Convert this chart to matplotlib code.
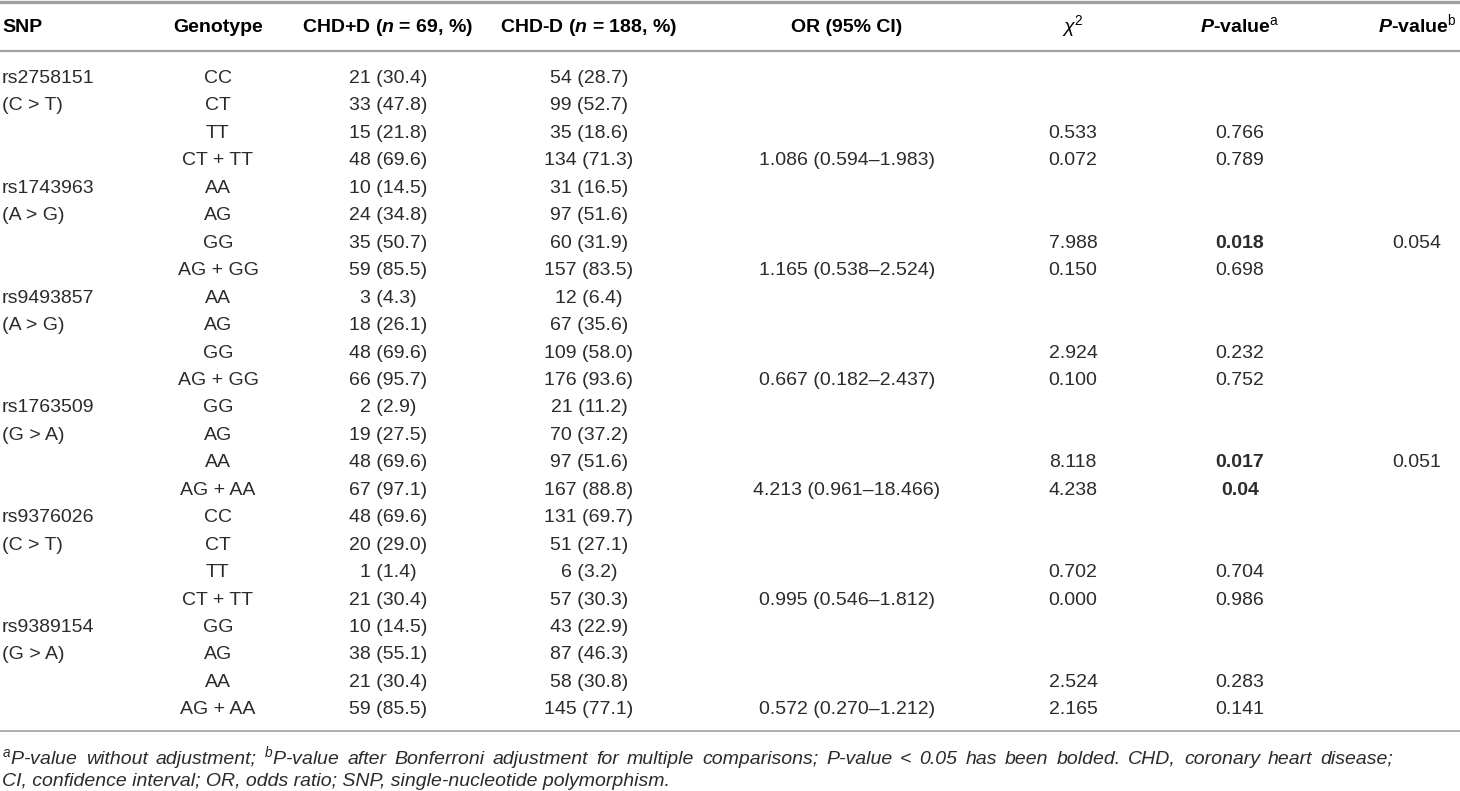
import matplotlib
matplotlib.use('Agg')
import matplotlib.pyplot as plt

plt.rcParams['font.family'] = ['Liberation Sans', 'DejaVu Sans']
plt.rcParams['mathtext.fontset'] = 'custom'
plt.rcParams['mathtext.rm'] = 'Liberation Sans'
plt.rcParams['mathtext.it'] = 'Liberation Sans:italic'
plt.rcParams['mathtext.bf'] = 'Liberation Sans:bold'
plt.rcParams['mathtext.bfit'] = 'Liberation Sans:bold:italic'

########################
# Table data
########################
headers = ['SNP', 'Genotype', r'CHD+D ($\mathbfit{n}$ = 69, %)', r'CHD-D ($\mathbfit{n}$ = 188, %)',
           'OR (95% CI)', r'$\chi^{2}$', r'$\mathbfit{P}$-value$^{\mathrm{a}}$',
           r'$\mathbfit{P}$-value$^{\mathrm{b}}$']

snp = ['rs2758151', '(C > T)', '', '',
       'rs1743963', '(A > G)', '', '',
       'rs9493857', '(A > G)', '', '',
       'rs1763509', '(G > A)', '', '',
       'rs9376026', '(C > T)', '', '',
       'rs9389154', '(G > A)', '', '']

genotype = ['CC', 'CT', 'TT', 'CT + TT',
            'AA', 'AG', 'GG', 'AG + GG',
            'AA', 'AG', 'GG', 'AG + GG',
            'GG', 'AG', 'AA', 'AG + AA',
            'CC', 'CT', 'TT', 'CT + TT',
            'GG', 'AG', 'AA', 'AG + AA']

chd_pos = ['21 (30.4)', '33 (47.8)', '15 (21.8)', '48 (69.6)',
           '10 (14.5)', '24 (34.8)', '35 (50.7)', '59 (85.5)',
           '3 (4.3)', '18 (26.1)', '48 (69.6)', '66 (95.7)',
           '2 (2.9)', '19 (27.5)', '48 (69.6)', '67 (97.1)',
           '48 (69.6)', '20 (29.0)', '1 (1.4)', '21 (30.4)',
           '10 (14.5)', '38 (55.1)', '21 (30.4)', '59 (85.5)']

chd_neg = ['54 (28.7)', '99 (52.7)', '35 (18.6)', '134 (71.3)',
           '31 (16.5)', '97 (51.6)', '60 (31.9)', '157 (83.5)',
           '12 (6.4)', '67 (35.6)', '109 (58.0)', '176 (93.6)',
           '21 (11.2)', '70 (37.2)', '97 (51.6)', '167 (88.8)',
           '131 (69.7)', '51 (27.1)', '6 (3.2)', '57 (30.3)',
           '43 (22.9)', '87 (46.3)', '58 (30.8)', '145 (77.1)']

or_ci = ['', '', '', '1.086 (0.594\u20131.983)',
         '', '', '', '1.165 (0.538\u20132.524)',
         '', '', '', '0.667 (0.182\u20132.437)',
         '', '', '', '4.213 (0.961\u201318.466)',
         '', '', '', '0.995 (0.546\u20131.812)',
         '', '', '', '0.572 (0.270\u20131.212)']

chi2 = ['', '', '0.533', '0.072',
        '', '', '7.988', '0.150',
        '', '', '2.924', '0.100',
        '', '', '8.118', '4.238',
        '', '', '0.702', '0.000',
        '', '', '2.524', '2.165']

p_a = ['', '', '0.766', '0.789',
       '', '', '0.018', '0.698',
       '', '', '0.232', '0.752',
       '', '', '0.017', '0.04',
       '', '', '0.704', '0.986',
       '', '', '0.283', '0.141']

p_b = ['', '', '', '',
       '', '', '0.054', '',
       '', '', '', '',
       '', '', '0.051', '',
       '', '', '', '',
       '', '', '', '']

footnotes = [r'$^{\mathit{a}}$$\mathit{P}$-value without adjustment; $^{\mathit{b}}$$\mathit{P}$-value after Bonferroni '
             'adjustment for multiple comparisons; P-value < 0.05 has been bolded. CHD, coronary heart disease;',
             'CI, confidence interval; OR, odds ratio; SNP, single-nucleotide polymorphism.']

########################
# Layout (pixel units)
########################
W, H = 1460, 791
col_x = [2, 218, 388, 589, 847, 1073, 1240, 1417]
col_ha = ['left', 'center', 'center', 'center', 'center', 'center', 'center', 'center']
header_y = 25
row0_y = 76
row_h = 27.45
base_off = 7
fs = 14
txt_color = '#2b2b2b'
line_color = '#a0a0a0'
foot_right = 1393   # first footnote line is justified to here

fig = plt.figure(figsize=(W / 100, H / 100), dpi=100)
ax = fig.add_axes([0, 0, 1, 1])
ax.set_xlim(0, W)
ax.set_ylim(H, 0)
ax.axis('off')

# rules
ax.axhline(1.5, color=line_color, lw=2.4)
ax.axhline(50.5, color=line_color, lw=1.6)
ax.axhline(731, color=line_color, lw=1.2)

for x, ha, h in zip(col_x, col_ha, headers):
    ax.text(x, header_y + base_off, h, ha=ha, va='baseline', fontsize=fs,
            fontweight='bold', color='black')

columns = [snp, genotype, chd_pos, chd_neg, or_ci, chi2, p_a, p_b]
for i in range(len(genotype)):
    y = row0_y + i * row_h + base_off
    for c, (x, ha, col) in enumerate(zip(col_x, col_ha, columns)):
        val = col[i]
        if not val:
            continue
        bold = (c == 6 and float(val) < 0.05)
        ax.text(x, y, val, ha=ha, va='baseline', fontsize=fs, color=txt_color,
                fontweight='bold' if bold else 'normal')

# footnotes: first line justified word by word, last line left aligned
renderer = fig.canvas.get_renderer()
y1 = 757 + base_off
words = footnotes[0].split(' ')
wtexts = [ax.text(0, y1, w, ha='left', va='baseline', fontsize=fs,
                  fontstyle='italic', color=txt_color) for w in words]
widths = [t.get_window_extent(renderer).width for t in wtexts]
gap = (foot_right - 2 - sum(widths)) / (len(words) - 1)
x = 2
for t, wd in zip(wtexts, widths):
    t.set_x(x)
    x += wd + gap

ax.text(2, 778.5 + base_off, footnotes[1], ha='left', va='baseline', fontsize=fs,
        fontstyle='italic', color=txt_color)

fig.savefig('out.png', dpi=100)
